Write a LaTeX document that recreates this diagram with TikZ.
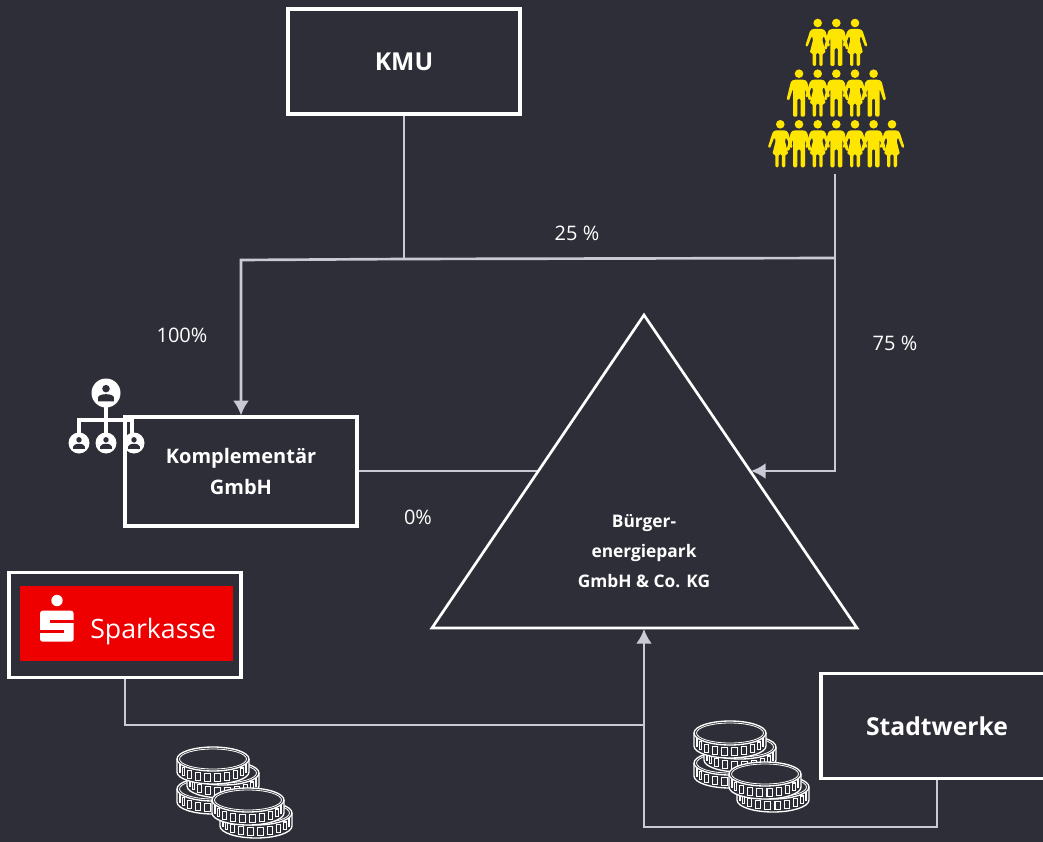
\documentclass[tikz,border=0pt]{standalone}
\usepackage{fontspec}
\setmainfont{Open Sans}
\usetikzlibrary{arrows.meta,positioning}

\definecolor{bgdark}{HTML}{2E2E38}
\definecolor{linegray}{HTML}{C9CAD6}
\definecolor{peopleyellow}{HTML}{FFE600}
\definecolor{sparkred}{HTML}{EE0000}

\tikzset{
    box/.style={draw=white,line width=2.7pt,fill=bgdark,minimum width=174pt,minimum height=79pt,
        inner sep=0pt,text=white,align=center,font=\bfseries\fontsize{15}{23}\selectfont},
    bigtext/.style={font=\bfseries\fontsize{18.5}{23}\selectfont},
    label/.style={text=white,inner sep=0pt,font=\fontsize{15}{21}\selectfont},
    conn/.style={draw=linegray,line width=2pt},
    tipped/.style={-{Latex[length=11pt,width=12pt]}},
    woman/.pic={
        \fill[peopleyellow] (0,0) circle (4.3);
        \fill[peopleyellow,rounded corners=1pt] (-5,6) -- (5,6) -- (7.5,7.5) -- (12.5,23) -- (10.3,24) -- (6,13) -- (4.5,16)
            -- (8,30) -- (5,30) -- (5,43) -- (1.6,43) -- (1.6,30) -- (-1.6,30) -- (-1.6,43) -- (-5,43)
            -- (-5,30) -- (-8,30) -- (-4.5,16) -- (-6,13) -- (-10.3,24) -- (-12.5,23) -- (-7.5,7.5) -- cycle;
    },
    man/.pic={
        \fill[peopleyellow] (0,0) circle (4.3);
        \fill[peopleyellow,rounded corners=1pt] (-5,6) -- (5,6) -- (8,7.5) -- (12.5,26) -- (10,27) -- (6,15) -- (6,43)
            -- (1.6,43) -- (1.6,25) -- (-1.6,25) -- (-1.6,43) -- (-6,43) -- (-6,15) -- (-10,27)
            -- (-12.5,26) -- (-8,7.5) -- cycle;
    },
    member/.pic={
        \fill[white] (0,0) circle (#1);
        \fill[bgdark] (0,-0.3*#1) circle (0.26*#1);
        \fill[bgdark] (-0.55*#1,0.57*#1) -- (-0.55*#1,0.32*#1) arc (180:360:0.55*#1 and 0.24*#1)
            -- (0.55*#1,0.57*#1) -- cycle;
    },
    coin/.pic={
        \fill[bgdark] (-36,0) -- (-36,13) arc (180:0:36 and 12) -- (36,0) arc (0:180:36 and 12);
        \draw[white,line width=1pt] (-36,0) -- (-36,13) arc (180:0:36 and 12) -- (36,0);
        \foreach \a in {14,31,...,170}{
            \draw[white,line width=0.8pt] ({34*cos(\a)-2.8*sin(\a)},{12*sin(\a)+2.8}) rectangle ({34*cos(\a)+2.8*sin(\a)},{12*sin(\a)+10.4});
        }
        \draw[white,line width=1pt,fill=bgdark] (0,0) ellipse (36 and 12);
        \draw[white,line width=0.6pt] (0,0) ellipse (33.5 and 10);
    },
    coins/.pic={
        \pic at (0,30) {coin};
        \pic at (10,14) {coin};
        \pic at (0,0) {coin};
        \pic at (43,54) {coin};
        \pic at (35,41) {coin};
    }
}

\begin{document}
\begin{tikzpicture}[x=0.75pt,y=-0.75pt]

    \useasboundingbox[fill=bgdark] (0,0) rectangle (1043,842);

    % connectors go under the boxes
    \coordinate (split)  at (404,259);
    \coordinate (corner) at (241,260);
    \coordinate (crowd)  at (835,174);
    \coordinate (branch) at (835,258);
    \coordinate (bend)   at (835,471);
    \coordinate (tip)    at (751,471);
    \coordinate (hit)    at (539,471);
    \coordinate (join)   at (644,725);
    \coordinate (sparkturn) at (125,725);
    \coordinate (stadtturn) at (937,827);
    \coordinate (stadtback) at (644,827);
    \coordinate (base)   at (644,629);

    \node[box,bigtext] (kmu)   at (404,61.5) {KMU};
    \node[box,minimum height=81.5pt] (kompl) at (241,471.5) {Komplementär\\GmbH};
    \node[box] (spark) at (125,625) {};
    \node[box,bigtext] (stadt) at (937,726) {Stadtwerke};

    \draw[conn] (kmu.south) -- (split);
    \draw[conn,tipped] (split) -- (corner) -- (kompl.north);
    \draw[conn] (split) -- (branch);
    \draw[conn,tipped] (crowd) -- (bend) -- (tip);
    \draw[conn] (kompl.east |- hit) -- (hit);
    \draw[conn] (spark.south) -- (sparkturn) -- (join);
    \draw[conn,tipped] (stadt.south) -- (stadtturn) -- (stadtback) -- (base);

    \node[text=white,align=center,inner sep=0pt,font=\bfseries\fontsize{13}{22.5}\selectfont]
        (park) at (644,551) {Bürger-\\energiepark\\GmbH \& Co. KG};
    \draw[white,line width=2pt,line join=miter] (644,315) -- (857,628) -- (432,628) -- cycle;

    \node[label] (l25)  at (577,233) {25 \%};
    \node[label] (l75)  at (895,343) {75 \%};
    \node[label] (l100) at (182,335) {100\%};
    \node[label] (l0)   at (418,517) {0\%};

    % sparkasse logo
    \node[fill=sparkred,minimum width=159.75pt,minimum height=56.25pt,inner sep=0pt] (logo) at (126.5,623.5) {};
    \fill[white] (57,600.5) circle (5.7);
    \fill[white,rounded corners=2pt] (40,610.7) rectangle (73.7,641.7);
    \fill[sparkred] (50,620) rectangle (74,623);
    \fill[sparkred] (39.5,630) rectangle (63.5,632.5);
    \node[text=white,inner sep=0pt,anchor=west,font=\fontsize{20}{24}\selectfont] (logotext) at (90,632) {Sparkasse};

    % people
    \foreach \x/\kind in {817.7/woman,836.3/man,855/woman}
        \pic at (\x,23) {\kind};
    \foreach \x/\kind in {799/man,817.7/woman,836.3/man,855/woman,873.6/man}
        \pic at (\x,73.7) {\kind};
    \foreach \x/\kind in {780.3/woman,799/man,817.7/woman,836.3/man,855/woman,873.6/man,892/woman}
        \pic at (\x,124.3) {\kind};

    % org icon
    \draw[white,line width=2.6pt] (106,400) -- (106,435) (79,435) -- (79,420) -- (132,420) -- (132,435);
    \pic at (106,393) {member={14.5}};
    \foreach \x in {79,106,134}
        \pic at (\x,443) {member={10.5}};
    \draw[white,line width=2.7pt] (125,526) -- (125,417) -- (357,417);

    % coins
    \pic at (213,759) {coins};
    \pic at (730,733) {coins};

\end{tikzpicture}
\end{document}
